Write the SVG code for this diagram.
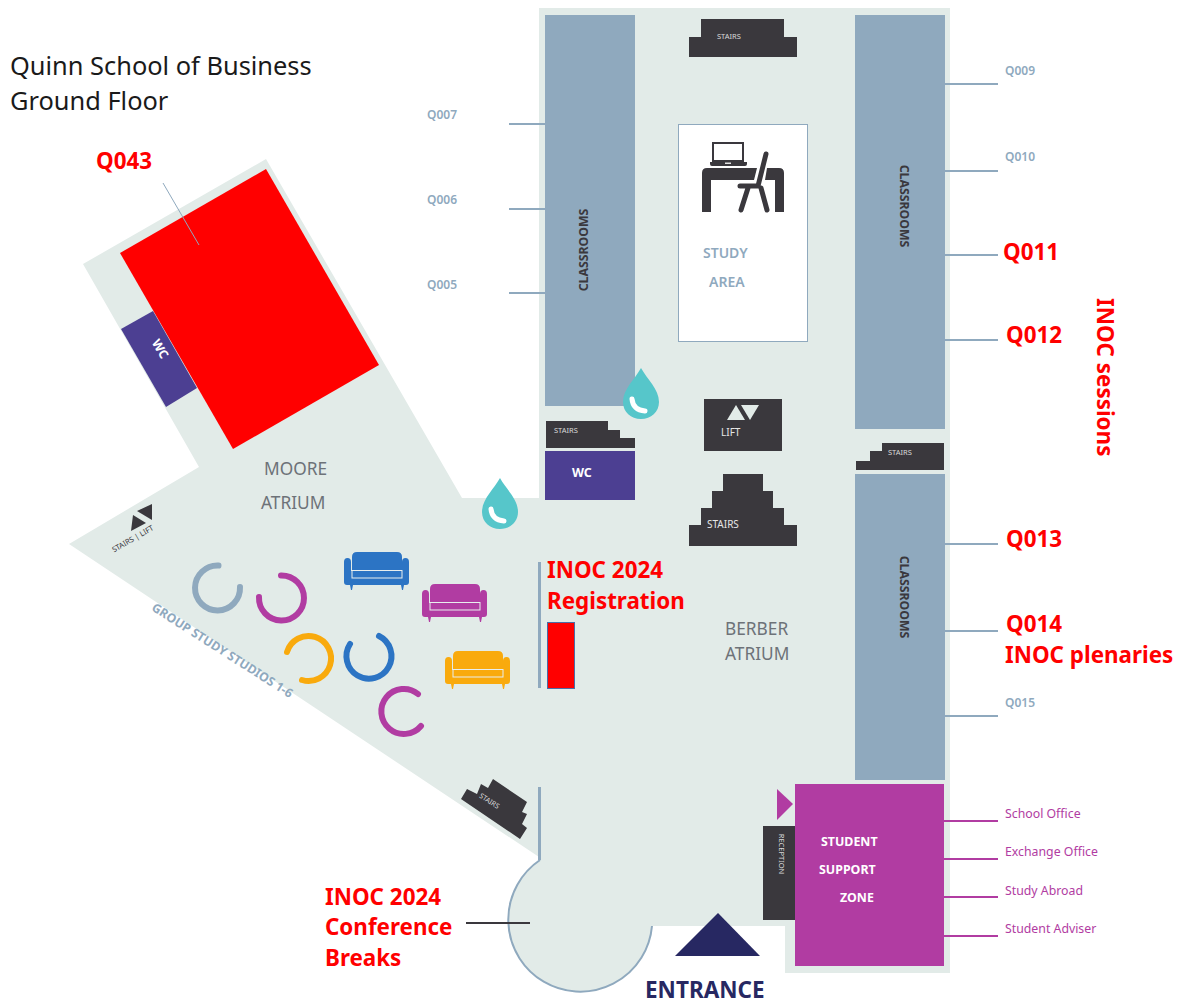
<svg xmlns="http://www.w3.org/2000/svg" width="1188" height="1003" viewBox="0 0 1188 1003">
<defs>
<style>
text{font-family:"Noto Sans","Open Sans","Liberation Sans",sans-serif}
.dark{fill:#3a383d}
.room{fill:#8fa9be}
.red{fill:#ff0000;font-weight:700;font-size:22.400px}
.qs{fill:#8fa9be;font-weight:600;font-size:12px}
.mg{fill:#b13ca2;font-size:12.300px}
.st{fill:#d9d9d9;font-size:7.500px}
.atr{fill:#6d7278;font-size:17.300px}
.ww{fill:#fff;font-weight:700;font-size:12.400px}
.cl{fill:#3a383d;font-weight:700;font-size:12.300px}
.l1{stroke:#8fa9be;stroke-width:2;fill:none}
.l2{stroke:#b13ca2;stroke-width:2;fill:none}
.ring{fill:none;stroke-width:6;stroke-linecap:round}
</style>
<symbol id="sofa" width="65" height="38" viewBox="0 0 65 38" overflow="visible">
<path d="M8 5 Q8 0 13 0 H53 Q58 0 58 5 V18 H8Z"/>
<path d="M0 10 Q0 6 3.500 6 Q7 6 7 10 V19 H58 V10 Q58 6 61.500 6 Q65 6 65 10 V30 Q65 33 62 33 H60 L59 38 H58 L57 33 H9 L8 38 H7 L6 33 H3 Q0 33 0 30Z"/>
<rect x="8" y="18.500" width="50" height="7.500" fill="none" stroke="#e8eeee" stroke-width="1"/>
</symbol>
<path id="drop" d="M0 0 C6 11 18 21 18 34 C18 44 10 51 0 51 C-10 51 -18 44 -18 34 C-18 21 -6 11 0 0Z"/>
</defs>
<rect width="1188" height="1003" fill="#fff"/>
<g id="floor">
<circle cx="580" cy="920" r="72" fill="#e2ebe8"/>
<path fill="#e2ebe8" d="M266 159 L83 264 L199 467 L69 544 L539 857 V926 H652 H785 V973 H950 V8 H539 V498 H462Z"/>
<path d="M540 860 A72 72 0 1 0 652 926" fill="none" stroke="#8fa9be" stroke-width="2"/>
</g>
<g id="title"><text x="10" y="75" font-size="25.400" fill="#1a1a1a">Quinn School of Business</text><text x="10" y="110" font-size="25.400" fill="#1a1a1a">Ground Floor</text></g>
<g id="room-q043"><polygon points="266,169 120,253 233,449 379,365" fill="#ff0000"/><text class="red" x="96" y="169">Q043</text></g>
<g id="wc-moore"><polygon points="121,329 153,311 197,388 166,407" fill="#4c3f92"/><text class="ww" transform="translate(160,349) rotate(60)" text-anchor="middle" y="4">WC</text></g>
<g id="atrium-moore"><text class="atr" x="264" y="475">MOORE</text><text class="atr" x="261" y="509">ATRIUM</text></g>
<g id="atrium-berber"><text class="atr" x="725" y="635">BERBER</text><text class="atr" x="725" y="660">ATRIUM</text></g>
<g id="stairs-lift-moore"><polygon class="dark" points="131,531 133,515 146,523"/><polygon class="dark" points="137,511 152,504 152,520"/><text transform="translate(134,541) rotate(-30)" text-anchor="middle" font-size="7.500" fill="#3a383d">STAIRS | LIFT</text></g>
<g id="group-study"><text transform="translate(220,654) rotate(32.500)" text-anchor="middle" font-size="12.300" font-weight="700" fill="#8fa9be">GROUP STUDY STUDIOS 1-6</text>
<path class="ring" stroke="#8fa9be" d="M218.500 565.500 A22.500 22.500 0 1 0 240 587"/>
<path class="ring" stroke="#b13ca2" d="M281 575.500 A22.500 22.500 0 1 1 259 597"/>
<path class="ring" stroke="#f9aa0d" d="M287 652 A22.500 22.500 0 1 1 302 680"/>
<path class="ring" stroke="#2c74c4" d="M350 644 A22.500 22.500 0 1 0 379 636"/>
<path class="ring" stroke="#b13ca2" d="M418 694 A22.500 22.500 0 1 0 421 726"/></g>
<g id="sofas"><use href="#sofa" x="344" y="552" width="65" height="38" fill="#2c74c4"/><use href="#sofa" x="422" y="584" width="65" height="38" fill="#b13ca2"/><use href="#sofa" x="445" y="651" width="65" height="38" fill="#f9aa0d"/></g>
<g id="classrooms-left"><rect class="room" x="545" y="15" width="90" height="391"/><text class="cl" transform="translate(588,250) rotate(-90)" text-anchor="middle">CLASSROOMS</text></g>
<g id="classrooms-right-top"><rect class="room" x="855" y="15" width="90" height="414"/><text class="cl" transform="translate(900,206) rotate(90)" text-anchor="middle">CLASSROOMS</text></g>
<g id="classrooms-right-bottom"><rect class="room" x="855" y="474" width="90" height="306"/><text class="cl" transform="translate(900,597) rotate(90)" text-anchor="middle">CLASSROOMS</text></g>
<g id="drops"><g transform="translate(641,368)"><use href="#drop" fill="#56c6ca"/><path d="M-9 31 Q-8 42 4 43" fill="none" stroke="#fff" stroke-width="5" stroke-linecap="round"/></g><g transform="translate(500,478)"><use href="#drop" fill="#56c6ca"/><path d="M-9 31 Q-8 42 4 43" fill="none" stroke="#fff" stroke-width="5" stroke-linecap="round"/></g></g>
<g id="stairs-top"><path class="dark" d="M701 19 H784 V37 H797 V57 H689 V37 H701Z"/><text class="st" x="717" y="39">STAIRS</text></g>
<g id="study-area"><rect x="678.500" y="124.500" width="129" height="217" fill="#fff" stroke="#8fa9be" stroke-width="1"/>
<path class="dark" fill-rule="evenodd" d="M712 142 H744 V162 H747 V164 Q747 166 745 166 H712 Q710 166 710 164 V162 H712Z M714 144 V160 H742 V144Z"/>
<rect x="725" y="162.500" width="6" height="1.500" fill="#e2e2e2"/>
<path class="dark" d="M707 168 H757 L754 180 H711 V212 H702 V173 Q702 168 707 168Z M767 168 H779 Q784 168 784 173 V212 H775 V180 H765Z"/>
<path d="M766 154 L758 186 H740 M748 188 L741 210 M761 188 L767 210" fill="none" stroke="#3a383d" stroke-width="5" stroke-linecap="round" stroke-linejoin="round"/>
<text x="703" y="258" font-size="14" font-weight="600" fill="#8fa9be">STUDY</text><text x="709" y="287" font-size="14" font-weight="600" fill="#8fa9be">AREA</text></g>
<g id="lift"><rect class="dark" x="704" y="399" width="78" height="52"/><polygon points="727,420 736,405 745,420" fill="#e2ebe8"/><polygon points="741,405 759,405 750,420" fill="#e2ebe8"/><text x="721" y="436" font-size="10" fill="#e6e6e6">LIFT</text></g>
<g id="stairs-left"><path class="dark" d="M546 421 H608 V430 H620 V438 H635 V448 H546Z"/><text class="st" x="554" y="433">STAIRS</text></g>
<g id="wc"><rect x="545" y="451" width="90" height="49" fill="#4c3f92"/><text class="ww" x="572" y="477">WC</text></g>
<g id="stairs-right"><path class="dark" d="M882 443 H944 V470 H856 V461 H870 V451 H882Z"/><text class="st" x="888" y="455">STAIRS</text></g>
<g id="stairs-centre"><path class="dark" d="M723 474 H763 V491 H773 V508 H784 V525 H797 V546 H689 V525 H701 V508 H712 V491 H723Z"/><text x="707" y="528" font-size="10" fill="#e6e6e6">STAIRS</text></g>
<g id="stairs-diagonal"><path class="dark" d="M493 779 L527 802 L522 812 L527 814 L522 824 L527 828 L520 839 L461 799 L467 789 L477 794 L481 784 L488 788Z"/><text transform="translate(488,803) rotate(33)" text-anchor="middle" font-size="7" fill="#d9d9d9">STAIRS</text></g>
<g id="support-zone"><rect x="795" y="784" width="149" height="182" fill="#b13ca2"/><polygon points="777,789 793,804 777,820" fill="#b13ca2"/><text class="ww" x="821" y="846">STUDENT</text><text class="ww" x="819" y="874">SUPPORT</text><text class="ww" x="840" y="902">ZONE</text></g>
<g id="reception"><rect class="dark" x="763" y="826" width="32" height="94"/><text transform="translate(779,854) rotate(90)" text-anchor="middle" font-size="7.500" fill="#d9d9d9">RECEPTION</text></g>
<g id="entrance"><polygon points="675,956 760,956 718,913" fill="#272862"/><text x="645" y="998" font-size="22.500" font-weight="700" fill="#272862">ENTRANCE</text></g>
<g id="registration"><rect x="547.500" y="622.500" width="27" height="66" fill="#ff0000" stroke="#4a6da7"/><text class="red" x="547" y="578">INOC 2024</text><text class="red" x="547" y="609">Registration</text></g>
<g id="connectors">
<path class="l1" d="M509 124 H545 M509 209 H545 M509 293 H545 M945 84 H998 M945 171 H998 M945 255 H998 M945 340 H998 M945 544 H998 M945 631 H998 M945 716 H998"/>
<path class="l2" d="M944 821 H998 M944 859 H998 M944 897 H998 M944 936 H998"/>
<path d="M539.500 562 V688 M539.500 787 V860" stroke="#8fa9be" stroke-width="3" fill="none"/>
<path d="M466 923 H530" stroke="#3a383d" stroke-width="2" fill="none"/>
<path d="M163 183 L199 245" stroke="#8fa9be" stroke-width="1" fill="none"/>
</g>
<g id="labels">
<text class="qs" x="427" y="119">Q007</text><text class="qs" x="427" y="204">Q006</text><text class="qs" x="427" y="289">Q005</text>
<text class="qs" x="1005" y="75">Q009</text><text class="qs" x="1005" y="161">Q010</text><text class="red" x="1003" y="260">Q011</text><text class="red" x="1006" y="343">Q012</text><text class="red" x="1006" y="547">Q013</text><text class="red" x="1006" y="632">Q014</text><text class="red" x="1005" y="663">INOC plenaries</text><text class="qs" x="1005" y="707">Q015</text>
<text class="red" transform="translate(1097,298) rotate(90)">INOC sessions</text>
<text class="mg" x="1005" y="818">School Office</text><text class="mg" x="1005" y="856">Exchange Office</text><text class="mg" x="1005" y="895">Study Abroad</text><text class="mg" x="1005" y="933">Student Adviser</text>
<text class="red" x="325" y="905">INOC 2024</text><text class="red" x="325" y="935">Conference</text><text class="red" x="325" y="966">Breaks</text>
</g>
</svg>
